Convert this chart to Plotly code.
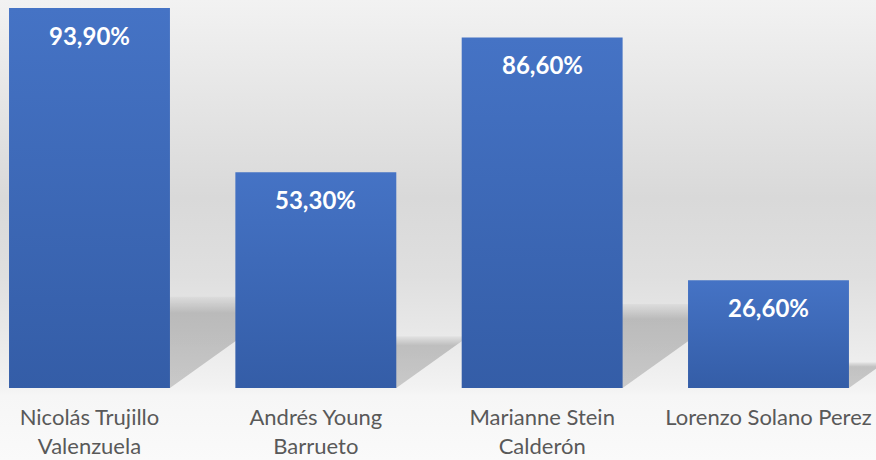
import base64

import plotly.graph_objects as go

candidates = ["Nicolás Trujillo<br>Valenzuela", "Andrés Young<br>Barrueto", "Marianne Stein<br>Calderón", "Lorenzo Solano Perez"]
scores = [93.9, 53.3, 86.6, 26.6]

BAR_W = 0.711
SHADOW_H = 0.24      # shadow height as a share of the bar
SHADOW_SLANT = 0.006  # sideways shift of the shadow per unit of value
FONT = "Lato"


def pct(v):
    return f"{v:.2f}".replace(".", ",") + "%"


# wall / floor backdrop as an inline svg gradient
svg = (
    '<svg xmlns="http://www.w3.org/2000/svg" width="876" height="460" viewBox="0 0 876 460" preserveAspectRatio="none">'
    '<defs><linearGradient id="g" x1="0" y1="0" x2="0" y2="1">'
    '<stop offset="0" stop-color="#f2f2f2"/>'
    '<stop offset="0.43" stop-color="#d9d9d9"/>'
    '<stop offset="0.6" stop-color="#dfdfdf"/>'
    '<stop offset="0.72" stop-color="#e8e8e8"/>'
    '<stop offset="0.84" stop-color="#f2f2f2"/>'
    '<stop offset="0.86" stop-color="#f6f6f6"/>'
    '<stop offset="1" stop-color="#fafafa"/>'
    '</linearGradient></defs><rect width="876" height="460" fill="url(#g)"/></svg>'
)
bg_src = "data:image/svg+xml;base64," + base64.b64encode(svg.encode()).decode()

fig = go.Figure()

# perspective shadows, drawn behind the bars
for i, v in enumerate(scores):
    l, r = i - BAR_W / 2, i + BAR_W / 2
    dx = v * SHADOW_SLANT
    h = v * SHADOW_H
    fig.add_trace(go.Scatter(
        x=[l, r, r + dx, l + dx, l],
        y=[0, 0, h, h, 0],
        mode="lines",
        line={"width": 0},
        fill="toself",
        fillgradient={
            "type": "vertical",
            "colorscale": [[0, "rgba(0,0,0,0.17)"], [0.82, "rgba(0,0,0,0.19)"], [1, "rgba(0,0,0,0.03)"]],
        },
        hoverinfo="skip",
        showlegend=False,
    ))

# bars with a top-to-bottom blue gradient
for i, v in enumerate(scores):
    l, r = i - BAR_W / 2, i + BAR_W / 2
    fig.add_trace(go.Scatter(
        x=[l, r, r, l, l],
        y=[0, 0, v, v, 0],
        mode="lines",
        line={"width": 0},
        fill="toself",
        fillgradient={"type": "vertical", "colorscale": [[0, "#345da7"], [1, "#4573c5"]]},
        name=candidates[i].replace("<br>", " "),
        hoverinfo="name",
        showlegend=False,
    ))

for i, v in enumerate(scores):
    fig.add_annotation(
        x=i, y=v, text=f"<b>{pct(v)}</b>", showarrow=False,
        yanchor="middle", yshift=-27,
        font={"family": FONT, "size": 24, "color": "white"},
    )

fig.add_layout_image(
    source=bg_src, xref="paper", yref="paper",
    x=0, y=1 + 8 / 380, sizex=1, sizey=460 / 380,
    xanchor="left", yanchor="top", sizing="stretch", layer="below",
)

fig.update_layout(
    width=876,
    height=460,
    margin={"l": 0, "r": 0, "t": 8, "b": 72},
    paper_bgcolor="#f8f8f8",
    plot_bgcolor="rgba(0,0,0,0)",
    font={"family": FONT, "color": "#595959"},
    showlegend=False,
)
fig.update_xaxes(
    range=[-0.3954, 3.475],
    tickvals=list(range(len(candidates))),
    ticktext=candidates,
    tickfont={"family": FONT, "size": 22, "color": "#595959"},
    ticklabelstandoff=14,
    showgrid=False, zeroline=False, showline=False, ticks="",
    automargin=False, fixedrange=True,
)
fig.update_yaxes(range=[0, 93.9], visible=False, automargin=False, fixedrange=True)

fig.write_html(
    "out.html",
    config={"displayModeBar": False},
    post_script="document.body.style.margin='0';document.body.style.overflow='hidden';",
)
